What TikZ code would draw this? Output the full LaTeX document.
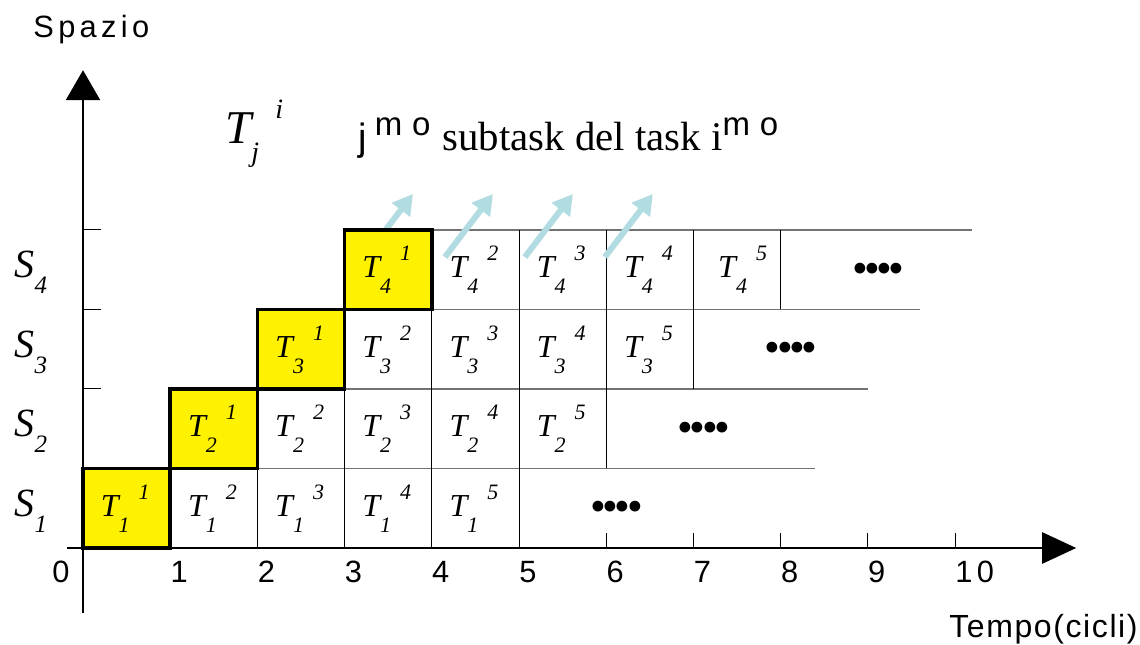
\documentclass[tikz,border=0pt]{standalone}
\usepackage{fontspec}
\setmainfont{Liberation Serif}
\setsansfont{Liberation Sans}
\newfontfamily\spacedsans[LetterSpace=14]{Liberation Sans}
\newfontfamily\tempofont[LetterSpace=5]{Liberation Sans}
\newfontfamily\mofont[LetterSpace=30]{Liberation Sans}
\newfontfamily\dotfont[LetterSpace=-8]{Liberation Serif}
\usepackage{tikz}
\usetikzlibrary{arrows.meta}
\usepackage{xcolor}
\definecolor{paleteal}{RGB}{176,220,226}

\begin{document}
\begin{tikzpicture}[x=43.6pt,y=39.75pt]
\useasboundingbox (-0.9518,-1.2201) rectangle (12.1216,6.8931);

% ---- styles ----
\tikzset{
  axisline/.style={line width=1.3pt},
  axtick/.style={line width=0.5pt},
  rowline/.style={draw=black!55,line width=0.8pt},
  cellline/.style={draw=black,line width=0.5pt},
  firstbox/.style={fill=yellow,draw=black,line width=1.8pt},
  flowarrow/.style={paleteal,line width=3pt,-{Triangle[length=10pt,width=11pt]}},
  tlabel/.style={anchor=base west,inner sep=0pt,font=\itshape\fontsize{16}{16}\selectfont},
  slabel/.style={anchor=base west,inner sep=0pt,font=\itshape\fontsize{20}{20}\selectfont},
  axnum/.style={anchor=base west,inner sep=0pt,font=\spacedsans\fontsize{15.4}{16}\selectfont},
  dots/.style={anchor=base,inner sep=0pt,font=\dotfont\fontsize{22.5}{22.5}\selectfont}
}

% ---- axes ----
\coordinate (xo) at (-0.18,0);
\coordinate (xe) at (11.39,0);
\coordinate (yo) at (0,-0.82);
\coordinate (ye) at (0,6.01);
\draw[axisline,-{Triangle[length=17pt,width=15.5pt]}] (xo) -- (xe);
\draw[axisline,-{Triangle[length=15pt,width=17pt]}] (yo) -- (ye);

\foreach \k in {1,...,10} {
    \draw[axtick] (\k,0) -- (\k,0.19);
    \node[axnum] (n\k) at (\k,-0.428) {\k};
}
\node[axnum] (n0) at (-0.355,-0.428) {0};
\foreach \r in {1,...,4} {
    \draw[axtick] (0,\r) -- (0.21,\r);
}

\node[anchor=base west,inner sep=0pt,font=\spacedsans\fontsize{15.4}{16}\selectfont] (spazio) at (-0.573,6.415) {Spazio};
\node[anchor=base east,inner sep=0pt,font=\tempofont\fontsize{16}{16}\selectfont] (tempo) at (12.099,-1.132) {Tempo(cicli)};

% ---- rows of the pipeline ----
\foreach \r in {1,...,4} {
    \draw[rowline] (\r,\r) -- (7.8+0.6*\r,\r);
    \foreach \c in {0,...,4}
        \draw[cellline] (\r+\c,\r-1) -- (\r+\c,\r);
}

% arrows along the last stage
\foreach \k in {0,...,3} {
    \coordinate (fa\k) at (3.234+0.917*\k,3.660);
    \coordinate (fb\k) at (3.784+0.917*\k,4.453);
    \draw[flowarrow] (fa\k) -- (fb\k);
}

% first subtask of each stage
\foreach \r in {1,...,4} {
    \draw[firstbox] (\r-1,\r-1) rectangle (\r,\r);
}

% ---- labels: \tlab{stage}{task}
\newcommand{\tlab}[2]{T\raisebox{-8pt}{\fontsize{11}{11}\selectfont #1}\hspace{4.5pt}\raisebox{8.5pt}{\fontsize{11}{11}\selectfont #2}}
\foreach \r in {1,...,4} {
    \foreach \j in {1,...,4}
        \node[tlabel] (t\r\j) at (\r+\j-2+0.2,\r-0.6) {\tlab{\r}{\j}};
    \node[slabel] (s\r) at (-0.79,\r-0.6) {S\raisebox{-8pt}{\fontsize{12.5}{12.5}\selectfont\r}};
    \node[dots] (d\r) at (\r+5.12,\r-0.67) {••••};
}
\foreach \r/\dx in {1/0,2/0,3/0,4/0.08}
    \node[tlabel] (t\r5) at (\r+3.2+\dx,\r-0.6) {\tlab{\r}{5}};

% ---- legend ----
\node[anchor=base west,inner sep=0pt,font=\itshape\fontsize{23.5}{24}\selectfont] (tji) at (1.628,5.094)
   {T\raisebox{-9pt}{\fontsize{14}{14}\selectfont j}\hspace{8pt}\raisebox{12.5pt}{\fontsize{14}{14}\selectfont i}};
\node[anchor=base west,inner sep=0pt] (desc) at (3.154,4.994)
   {{\sffamily\fontsize{19}{19}\selectfont j}\hspace{4pt}\raisebox{7.5pt}{\mofont\fontsize{16.5}{16.5}\selectfont mo}\hspace{6pt}{\fontsize{20.4}{21}\selectfont subtask del task i}\raisebox{7.5pt}{\mofont\fontsize{16.5}{16.5}\selectfont mo}};

\end{tikzpicture}
\end{document}
